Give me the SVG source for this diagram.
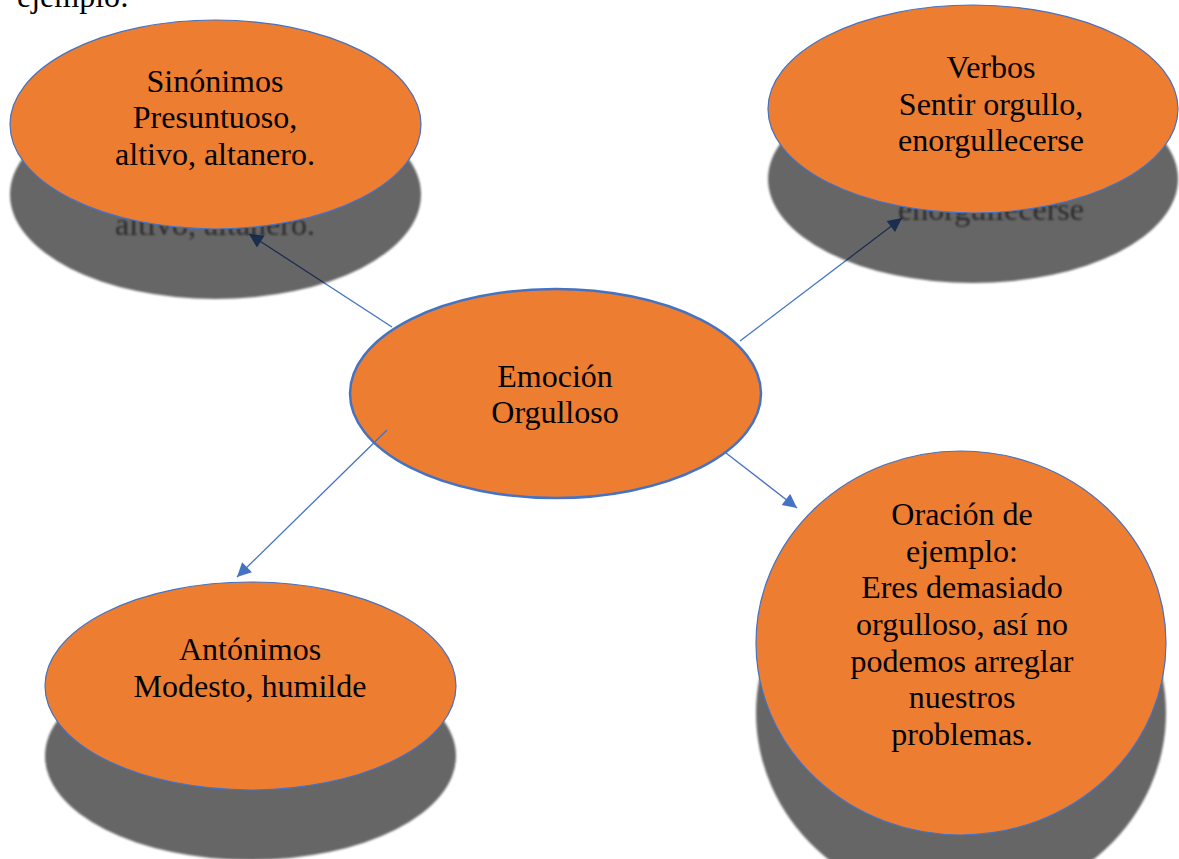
<svg xmlns="http://www.w3.org/2000/svg" width="1179" height="859" viewBox="0 0 1179 859">
<style>
.t{font-family:"Liberation Serif","Times New Roman",serif;font-size:32px;fill:#000;text-anchor:middle}
.sh{fill:#000;fill-opacity:0.6;filter:url(#blur)}
.sht{font-family:"Liberation Serif","Times New Roman",serif;font-size:32px;fill:#000;fill-opacity:0.6;text-anchor:middle;filter:url(#blur)}
.node{fill:#ED7D31;stroke:#4472C4;stroke-width:1.2}
.center{fill:#ED7D31;stroke:#4472C4;stroke-width:2.5}
.conn{stroke:#4472C4;stroke-width:1.3;fill:none;marker-end:url(#arr)}
</style>
<defs>
<filter id="blur" x="-5%" y="-5%" width="110%" height="110%"><feGaussianBlur stdDeviation="1"/></filter>
<marker id="arr" viewBox="0 0 10 10" refX="10" refY="5" markerWidth="15" markerHeight="14" markerUnits="userSpaceOnUse" orient="auto"><path d="M0,0 L10,5 L0,10 z" fill="#4472C4"/></marker>
</defs>
<rect width="1179" height="859" fill="#fff"/>
<text x="17" y="7" style="font-family:'Liberation Serif','Times New Roman',serif;font-size:32px;fill:#000">ejemplo:</text>

<g id="node-center">
<ellipse class="center" cx="555.5" cy="393.5" rx="205.5" ry="104.5"/>
<text class="t" x="555" y="387">Emoción</text>
<text class="t" x="555" y="423">Orgulloso</text>
</g>

<g id="connectors">
<line class="conn" x1="392" y1="327" x2="249" y2="234"/>
<line class="conn" x1="740" y1="341" x2="902" y2="218"/>
<line class="conn" x1="387" y1="430" x2="237" y2="577"/>
<line class="conn" x1="726" y1="453" x2="797" y2="508"/>
</g>

<g id="node-sinonimos">
<ellipse class="sh" cx="215.5" cy="194.5" rx="205.5" ry="104.5"/>
<text class="sht" x="215" y="235">altivo, altanero.</text>
<ellipse class="node" cx="215.5" cy="124.5" rx="205.5" ry="104.5"/>
<text class="t" x="215" y="92">Sinónimos</text>
<text class="t" x="215" y="128">Presuntuoso,</text>
<text class="t" x="215" y="165">altivo, altanero.</text>
</g>

<g id="node-verbos">
<ellipse class="sh" cx="973" cy="179" rx="205" ry="104"/>
<text class="sht" x="991" y="220">enorgullecerse</text>
<ellipse class="node" cx="973" cy="109" rx="205" ry="104"/>
<text class="t" x="991" y="78">Verbos</text>
<text class="t" x="991" y="115">Sentir orgullo,</text>
<text class="t" x="991" y="151">enorgullecerse</text>
</g>

<g id="node-antonimos">
<ellipse class="sh" cx="250.5" cy="756" rx="205.5" ry="104"/>
<ellipse class="node" cx="250.5" cy="686" rx="205.5" ry="104"/>
<text class="t" x="250" y="660">Antónimos</text>
<text class="t" x="250" y="697">Modesto, humilde</text>
</g>

<g id="node-oracion">
<ellipse class="sh" cx="961" cy="713" rx="205" ry="192"/>
<ellipse class="node" cx="961" cy="643" rx="205" ry="192"/>
<text class="t" x="962" y="525">Oración de</text>
<text class="t" x="962" y="562">ejemplo:</text>
<text class="t" x="962" y="598">Eres demasiado</text>
<text class="t" x="962" y="635">orgulloso, así no</text>
<text class="t" x="962" y="672">podemos arreglar</text>
<text class="t" x="962" y="708">nuestros</text>
<text class="t" x="962" y="745">problemas.</text>
</g>
</svg>
